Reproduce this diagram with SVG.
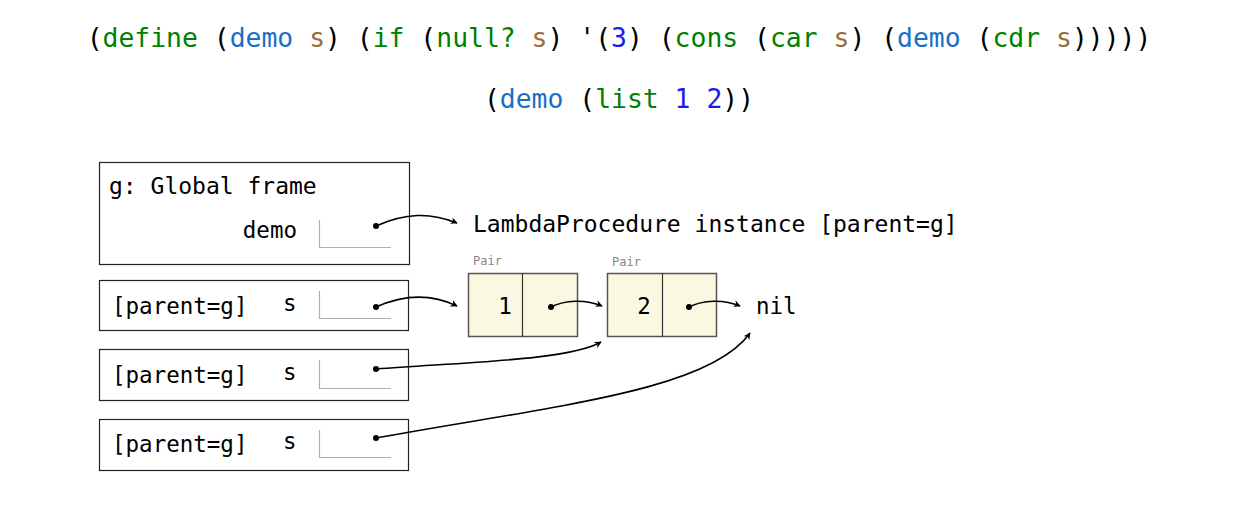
<svg xmlns="http://www.w3.org/2000/svg" width="1234" height="508" viewBox="0 0 1234 508">
<defs>
<style>
.code{font-family:"DejaVu Sans Mono",monospace;font-size:26.4px;fill:#000}
.kw{fill:#008000}
.fn{fill:#1a6fc4}
.var{fill:#9c6a3c}
.num{fill:#1a1aee}
.t{font-family:"DejaVu Sans Mono",monospace;font-size:22.5px;fill:#000}
.t23{font-size:23px}
.pl{font-family:"DejaVu Sans Mono",monospace;font-size:12px;fill:#8c8480}
.frame{fill:#fff;stroke:#222;stroke-width:1.2}
.slot{fill:none;stroke:#a9b4b8;stroke-width:1.2}
.pair{fill:#faf8e1;stroke:#555;stroke-width:1.5}
.dot{fill:#000}
.arr{fill:none;stroke:#000;stroke-width:1.6;marker-end:url(#ah)}
</style>
<marker id="ah" viewBox="0 0 10 10" refX="9" refY="5" markerWidth="7" markerHeight="7" orient="auto" markerUnits="userSpaceOnUse">
<path d="M0,0 L10,5 L0,10 L3,5 Z" fill="#000"/>
</marker>
</defs>
<g id="code">
<text class="code" x="619" y="47" text-anchor="middle">(<tspan class="kw">define</tspan> (<tspan class="fn">demo</tspan> <tspan class="var">s</tspan>) (<tspan class="kw">if</tspan> (<tspan class="kw">null?</tspan> <tspan class="var">s</tspan>) '(<tspan class="num">3</tspan>) (<tspan class="kw">cons</tspan> (<tspan class="kw">car</tspan> <tspan class="var">s</tspan>) (<tspan class="fn">demo</tspan> (<tspan class="kw">cdr</tspan> <tspan class="var">s</tspan>)))))</text>
<text class="code" x="619" y="108" text-anchor="middle">(<tspan class="fn">demo</tspan> (<tspan class="kw">list</tspan> <tspan class="num">1</tspan> <tspan class="num">2</tspan>))</text>
</g>
<g id="global-frame">
<rect class="frame" x="99.5" y="162.5" width="310" height="102"/>
<text class="t t23" x="109" y="194">g: Global frame</text>
<text class="t" x="297" y="238" text-anchor="end">demo</text>
<path class="slot" d="M319.5,220 V247.5 H391"/>
<circle class="dot" cx="376" cy="226" r="3"/>
</g>
<g id="frame-1">
<rect class="frame" x="99.5" y="280.5" width="309" height="50"/>
<text class="t" x="112" y="314">[parent=g]</text>
<text class="t" x="283" y="311">s</text>
<path class="slot" d="M319.5,291 V318.5 H391"/>
<circle class="dot" cx="376" cy="307" r="3"/>
</g>
<g id="frame-2">
<rect class="frame" x="99.5" y="349.5" width="309" height="51"/>
<text class="t" x="112" y="383">[parent=g]</text>
<text class="t" x="283" y="380">s</text>
<path class="slot" d="M319.5,360 V388.5 H391"/>
<circle class="dot" cx="376" cy="369" r="3"/>
</g>
<g id="frame-3">
<rect class="frame" x="99.5" y="419.5" width="309" height="51"/>
<text class="t" x="112" y="452">[parent=g]</text>
<text class="t" x="283" y="449">s</text>
<path class="slot" d="M319.5,430 V457.5 H391"/>
<circle class="dot" cx="376" cy="438" r="3"/>
</g>
<g id="lambda">
<text class="t t23" x="473" y="232">LambdaProcedure instance [parent=g]</text>
</g>
<g id="pair-1">
<text class="pl" x="473" y="265">Pair</text>
<rect class="pair" x="468.5" y="273.5" width="109" height="63"/>
<line x1="522.5" y1="273.5" x2="522.5" y2="336.5" stroke="#333" stroke-width="1.2"/>
<text class="t" x="505" y="314" text-anchor="middle">1</text>
<circle class="dot" cx="551" cy="307" r="3"/>
</g>
<g id="pair-2">
<text class="pl" x="612" y="266">Pair</text>
<rect class="pair" x="607.5" y="273.5" width="109" height="63"/>
<line x1="662.5" y1="273.5" x2="662.5" y2="336.5" stroke="#333" stroke-width="1.2"/>
<text class="t" x="644" y="314" text-anchor="middle">2</text>
<circle class="dot" cx="689" cy="307" r="3"/>
</g>
<g id="nil">
<text class="t" x="756" y="314">nil</text>
</g>
<g id="connectors">
<path class="arr" d="M376,226 C405,213 430,212 457,223"/>
<path class="arr" d="M376,307 C405,294 432,294 457,306"/>
<path class="arr" d="M551,307 C565,300 585,299 602,306"/>
<path class="arr" d="M689,307 C703,300 723,299 740,306"/>
<path class="arr" d="M376,369 C470,362 570,360 601,342"/>
<path class="arr" d="M376,438 C560,405 710,390 750,333"/>
</g>
</svg>
